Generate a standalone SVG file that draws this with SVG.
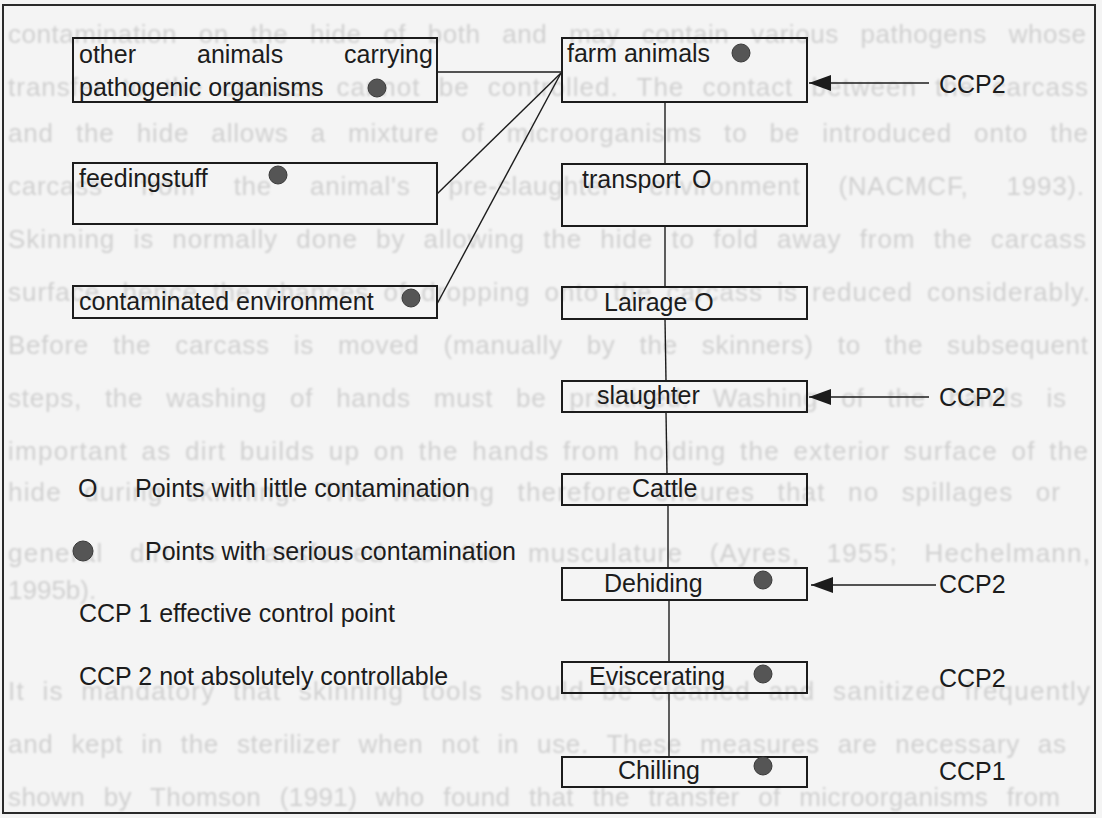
<svg xmlns="http://www.w3.org/2000/svg" width="1102" height="818" viewBox="0 0 1102 818">
<style>
.bg{font-family:"Liberation Sans",Arial,sans-serif;font-size:26px;fill:#d0d0d0}
.t{font-family:"Liberation Sans",Arial,sans-serif;font-size:25px;fill:#1c1c1c}
.box{fill:none;stroke:#1c1c1c;stroke-width:2}
.ln{fill:none;stroke:#1c1c1c;stroke-width:1.4}
.dot{fill:#555;stroke:#3a3a3a;stroke-width:1}
</style>
<defs>
<marker id="ah" viewBox="0 0 22 16" refX="22" refY="8" markerWidth="22" markerHeight="16" markerUnits="userSpaceOnUse" orient="auto">
<path d="M0,0 L22,8 L0,16 Z" fill="#1c1c1c"/>
</marker>
<filter id="soft"><feGaussianBlur stdDeviation="0.8"/></filter>
</defs>
<rect x="0" y="0" width="1102" height="818" fill="#f4f4f4"/>
<g id="bleed" filter="url(#soft)">
<text class="bg" x="8" y="43" word-spacing="14" textLength="1078" lengthAdjust="spacing">contamination on the hide of both and may contain various pathogens whose</text>
<text class="bg" x="8" y="96" word-spacing="10" textLength="1080" lengthAdjust="spacing">transfer to the carcass cannot be controlled. The contact between the carcass</text>
<text class="bg" x="8" y="142" word-spacing="14" textLength="1080" lengthAdjust="spacing">and the hide allows a mixture of microorganisms to be introduced onto the</text>
<text class="bg" x="8" y="195" word-spacing="30" textLength="1076" lengthAdjust="spacing">carcass from the animal's pre-slaughter environment (NACMCF, 1993).</text>
<text class="bg" x="8" y="248" word-spacing="10" textLength="1078" lengthAdjust="spacing">Skinning is normally done by allowing the hide to fold away from the carcass</text>
<text class="bg" x="8" y="301" word-spacing="6" textLength="1082" lengthAdjust="spacing">surface, hence the chances of dropping onto the carcass is reduced considerably.</text>
<text class="bg" x="8" y="354" word-spacing="16" textLength="1080" lengthAdjust="spacing">Before the carcass is moved (manually by the skinners) to the subsequent</text>
<text class="bg" x="8" y="407" word-spacing="15" textLength="1058" lengthAdjust="spacing">steps, the washing of hands must be practised. Washing of the hands is</text>
<text class="bg" x="8" y="460" word-spacing="5" textLength="1080" lengthAdjust="spacing">important as dirt builds up on the hands from holding the exterior surface of the</text>
<text class="bg" x="8" y="501" word-spacing="14" textLength="1052" lengthAdjust="spacing">hide during skinning. The washing therefore ensures that no spillages or</text>
<text class="bg" x="8" y="562" word-spacing="18" textLength="1082" lengthAdjust="spacing">general dirt is transferred to the musculature (Ayres, 1955; Hechelmann,</text>
<text class="bg" x="8" y="599">1995b).</text>
<text class="bg" x="8" y="700" word-spacing="9" textLength="1082" lengthAdjust="spacing">It is mandatory that skinning tools should be cleaned and sanitized frequently</text>
<text class="bg" x="8" y="753" word-spacing="10" textLength="1058" lengthAdjust="spacing">and kept in the sterilizer when not in use. These measures are necessary as</text>
<text class="bg" x="8" y="806" word-spacing="11" textLength="1052" lengthAdjust="spacing">shown by Thomson (1991) who found that the transfer of microorganisms from</text>
</g>
<rect x="3" y="5" width="1092" height="808" fill="none" stroke="#2a2a2a" stroke-width="2"/>
<g id="connectors">
<path class="ln" d="M437,72 L561,72"/>
<path class="ln" d="M437,194 L561,73"/>
<path class="ln" d="M437,304 L561,73"/>
<path class="ln" d="M665,102 L665,164"/>
<path class="ln" d="M665,226 L665,287"/>
<path class="ln" d="M665,319 L666,381"/>
<path class="ln" d="M666,412 L667,474"/>
<path class="ln" d="M668,505 L668,568"/>
<path class="ln" d="M669,600 L669,662"/>
<path class="ln" d="M669,693 L669,757"/>
<path class="ln" d="M929,83 L809,83" marker-end="url(#ah)"/>
<path class="ln" d="M929,397 L809,397" marker-end="url(#ah)"/>
<path class="ln" d="M936,585 L811,585" marker-end="url(#ah)"/>
</g>
<g id="n-other">
<rect class="box" x="73" y="38" width="364" height="64"/>
<text class="t" y="63"><tspan x="79">other</tspan><tspan x="197">animals</tspan><tspan x="344">carrying</tspan></text>
<text class="t" x="79" y="96">pathogenic organisms</text>
<circle class="dot" cx="377" cy="88" r="9"/>
</g>
<g id="n-feed">
<rect class="box" x="73" y="163" width="364" height="61"/>
<text class="t" x="79" y="187">feedingstuff</text>
<circle class="dot" cx="278" cy="175" r="9"/>
</g>
<g id="n-env">
<rect class="box" x="73" y="286" width="364" height="32"/>
<text class="t" x="79" y="310">contaminated environment</text>
<circle class="dot" cx="411" cy="298" r="9"/>
</g>
<g id="n-farm">
<rect class="box" x="562" y="38" width="245" height="64"/>
<text class="t" x="567" y="62">farm animals</text>
<circle class="dot" cx="741" cy="53" r="9"/>
</g>
<g id="n-transport">
<rect class="box" x="562" y="164" width="245" height="62"/>
<text class="t" x="582" y="188">transport <tspan x="692">O</tspan></text>
</g>
<g id="n-lairage">
<rect class="box" x="562" y="287" width="245" height="32"/>
<text class="t" x="604" y="311">Lairage O</text>
</g>
<g id="n-slaughter">
<rect class="box" x="562" y="381" width="245" height="31"/>
<text class="t" x="597" y="404">slaughter</text>
</g>
<g id="n-cattle">
<rect class="box" x="562" y="474" width="245" height="31"/>
<text class="t" x="632" y="497">Cattle</text>
</g>
<g id="n-dehiding">
<rect class="box" x="562" y="568" width="245" height="32"/>
<text class="t" x="604" y="592">Dehiding</text>
<circle class="dot" cx="763" cy="580" r="9"/>
</g>
<g id="n-eviscerating">
<rect class="box" x="562" y="662" width="245" height="31"/>
<text class="t" x="589" y="685">Eviscerating</text>
<circle class="dot" cx="763" cy="674" r="9"/>
</g>
<g id="n-chilling">
<rect class="box" x="562" y="757" width="245" height="30"/>
<text class="t" x="618" y="779">Chilling</text>
<circle class="dot" cx="763" cy="766" r="9"/>
</g>
<g id="ccp-labels">
<text class="t" x="939" y="93">CCP2</text>
<text class="t" x="939" y="406">CCP2</text>
<text class="t" x="939" y="593">CCP2</text>
<text class="t" x="939" y="687">CCP2</text>
<text class="t" x="939" y="780">CCP1</text>
</g>
<g id="legend">
<text class="t" x="78" y="497">O</text>
<text class="t" x="135" y="497">Points with little contamination</text>
<circle class="dot" cx="83" cy="551" r="10"/>
<text class="t" x="145" y="560">Points with serious contamination</text>
<text class="t" x="79" y="622">CCP 1 effective control point</text>
<text class="t" x="79" y="685">CCP 2 not absolutely controllable</text>
</g>
</svg>
